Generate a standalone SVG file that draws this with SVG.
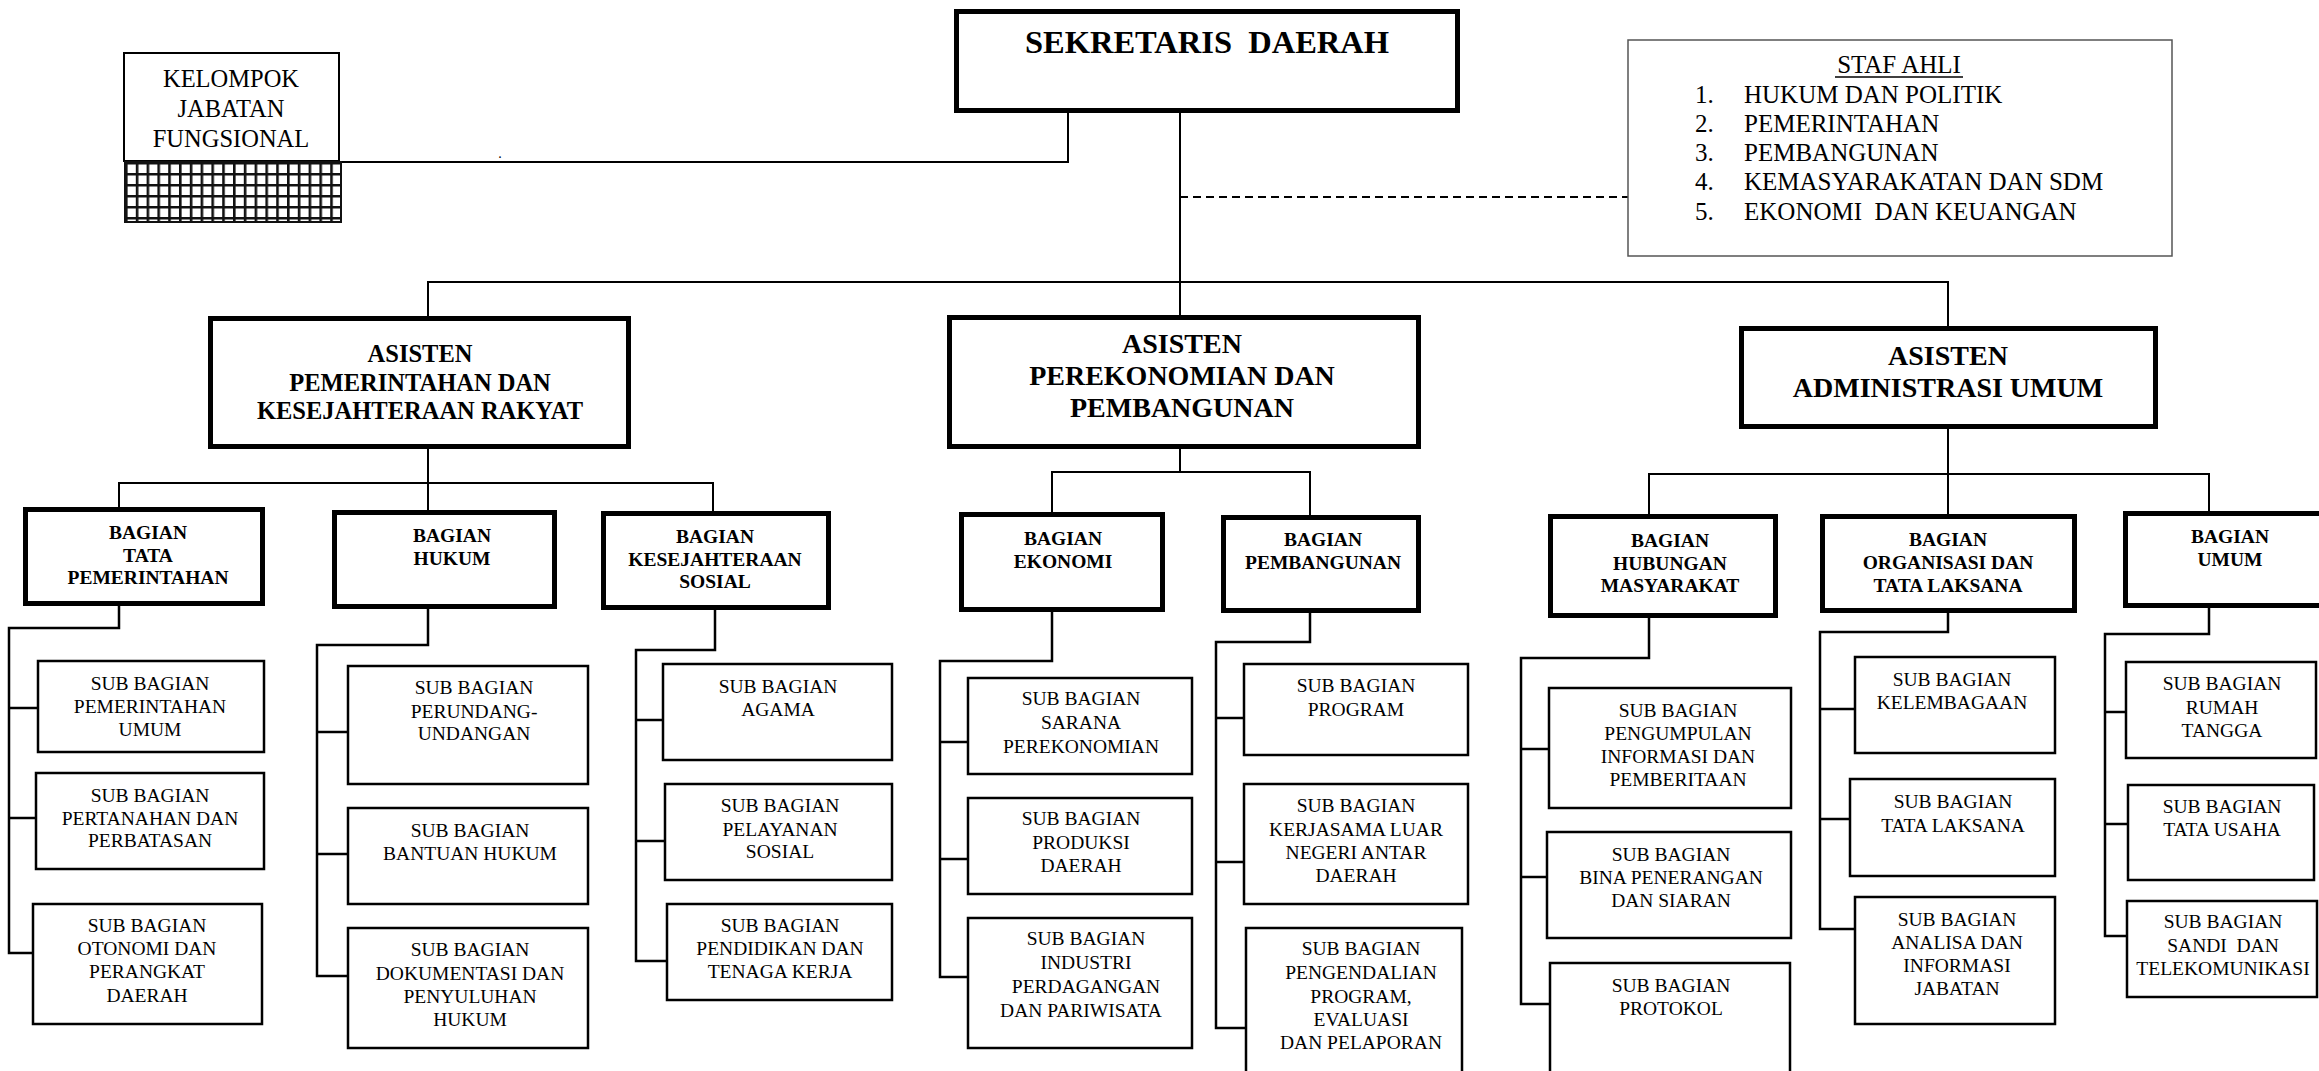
<svg xmlns="http://www.w3.org/2000/svg" width="2319" height="1071" viewBox="0 0 2319 1071">
<style>
.bx{fill:#fff;stroke:#000}
.b5{stroke-width:5}
.b2{stroke-width:2.5}
.c{fill:none;stroke:#000;stroke-width:2}
.cs{fill:none;stroke:#000;stroke-width:2.5}
text{font-family:"Liberation Serif","Times New Roman",serif;fill:#000;text-anchor:middle;white-space:pre}
.s{font-size:19.5px}
.bb{font-size:19.5px;font-weight:bold}
.a1{font-size:24.5px;font-weight:bold}
.a2{font-size:28px;font-weight:bold}
.st{font-size:25px;text-anchor:start}
</style>
<defs>
<pattern id="grid" x="125" y="162" width="10.8" height="11" patternUnits="userSpaceOnUse">
<rect width="10.8" height="11" fill="#fff"/>
<path d="M1.2 0V11M0 1.2H10.8" stroke="#111" stroke-width="2.8"/>
</pattern>
</defs>
<rect width="2319" height="1071" fill="#fff"/>

<g id="connectors">
<polyline class="c" points="341,162 1068,162 1068,112"/>
<line class="c" x1="1180" y1="112" x2="1180" y2="316"/>
<line class="c" x1="1180" y1="197" x2="1628" y2="197" stroke-dasharray="8 5"/>
<polyline class="c" points="428,316 428,282 1948,282 1948,326"/>
<polyline class="c" points="119,507 119,483 713,483 713,511"/>
<line class="c" x1="428" y1="449" x2="428" y2="510"/>
<polyline class="c" points="1052,512 1052,472 1310,472 1310,515"/>
<line class="c" x1="1180" y1="449" x2="1180" y2="472"/>
<polyline class="c" points="1649,514 1649,474 2209,474 2209,511"/>
<line class="c" x1="1948" y1="429" x2="1948" y2="514"/>
<polyline class="cs" points="119,606 119,628 9,628 9,953 33,953"/>
<line class="cs" x1="9" y1="708" x2="38" y2="708"/>
<line class="cs" x1="9" y1="818" x2="36" y2="818"/>
<polyline class="cs" points="428,609 428,645 317,645 317,976 348,976"/>
<line class="cs" x1="317" y1="732" x2="348" y2="732"/>
<line class="cs" x1="317" y1="854" x2="348" y2="854"/>
<polyline class="cs" points="715,610 715,650 636,650 636,961 667,961"/>
<line class="cs" x1="636" y1="720" x2="663" y2="720"/>
<line class="cs" x1="636" y1="841" x2="665" y2="841"/>
<polyline class="cs" points="1052,612 1052,661 940,661 940,977 968,977"/>
<line class="cs" x1="940" y1="742" x2="968" y2="742"/>
<line class="cs" x1="940" y1="859" x2="968" y2="859"/>
<polyline class="cs" points="1310,613 1310,642 1216,642 1216,1028 1246,1028"/>
<line class="cs" x1="1216" y1="718" x2="1244" y2="718"/>
<line class="cs" x1="1216" y1="862" x2="1244" y2="862"/>
<polyline class="cs" points="1649,618 1649,658 1521,658 1521,1004 1550,1004"/>
<line class="cs" x1="1521" y1="749" x2="1549" y2="749"/>
<line class="cs" x1="1521" y1="877" x2="1547" y2="877"/>
<polyline class="cs" points="1948,613 1948,632 1820,632 1820,929 1855,929"/>
<line class="cs" x1="1820" y1="709" x2="1855" y2="709"/>
<line class="cs" x1="1820" y1="819" x2="1850" y2="819"/>
<polyline class="cs" points="2209,608 2209,634 2105,634 2105,936 2127,936"/>
<line class="cs" x1="2105" y1="712" x2="2126" y2="712"/>
<line class="cs" x1="2105" y1="824" x2="2128" y2="824"/>
</g>
<text x="500" y="158" style="font-size:14px">.</text>

<g id="sekda">
<rect class="bx b5" x="956.5" y="11.5" width="501" height="99"/>
<text x="1207" y="53" style="font-size:32.5px;font-weight:bold">SEKRETARIS  DAERAH</text>
</g>

<g id="kelompok">
<rect class="bx" stroke-width="2" x="124" y="53" width="215" height="108"/>
<rect x="125" y="162" width="216" height="60" fill="url(#grid)" stroke="#111" stroke-width="2"/>
<text x="231" y="87" style="font-size:24.5px">KELOMPOK</text>
<text x="231" y="117" style="font-size:24.5px">JABATAN</text>
<text x="231" y="147" style="font-size:24.5px">FUNGSIONAL</text>
</g>

<g id="stafahli">
<rect x="1628" y="40" width="544" height="216" fill="#fff" stroke="#555" stroke-width="1.5"/>
<text x="1899" y="73" style="font-size:25px">STAF AHLI</text>
<line x1="1835" y1="77" x2="1963" y2="77" stroke="#000" stroke-width="1.5"/>
<text class="st" x="1695" y="103">1.</text><text class="st" x="1744" y="103">HUKUM DAN POLITIK</text>
<text class="st" x="1695" y="132">2.</text><text class="st" x="1744" y="132">PEMERINTAHAN</text>
<text class="st" x="1695" y="161">3.</text><text class="st" x="1744" y="161">PEMBANGUNAN</text>
<text class="st" x="1695" y="190">4.</text><text class="st" x="1744" y="190">KEMASYARAKATAN DAN SDM</text>
<text class="st" x="1695" y="220">5.</text><text class="st" x="1744" y="220">EKONOMI  DAN KEUANGAN</text>
</g>

<g id="asisten1">
<rect class="bx b5" x="210.5" y="318.5" width="418" height="128"/>
<text class="a1" x="420" y="362">ASISTEN</text>
<text class="a1" x="420" y="391">PEMERINTAHAN DAN</text>
<text class="a1" x="420" y="419">KESEJAHTERAAN RAKYAT</text>
</g>
<g id="asisten2">
<rect class="bx b5" x="949.5" y="317.5" width="469" height="129"/>
<text class="a2" x="1182" y="353">ASISTEN</text>
<text class="a2" x="1182" y="385">PEREKONOMIAN DAN</text>
<text class="a2" x="1182" y="417">PEMBANGUNAN</text>
</g>
<g id="asisten3">
<rect class="bx b5" x="1741.5" y="328.5" width="414" height="98"/>
<text class="a2" x="1948" y="365">ASISTEN</text>
<text class="a2" x="1948" y="397">ADMINISTRASI UMUM</text>
</g>

<g id="bag-tapem">
<rect class="bx b5" x="25.5" y="509.5" width="237" height="94"/>
<text class="bb" x="148" y="539">BAGIAN</text>
<text class="bb" x="148" y="562">TATA</text>
<text class="bb" x="148" y="584">PEMERINTAHAN</text>
</g>
<g id="bag-hukum">
<rect class="bx b5" x="334.5" y="512.5" width="220" height="94"/>
<text class="bb" x="452" y="542">BAGIAN</text>
<text class="bb" x="452" y="565">HUKUM</text>
</g>
<g id="bag-kesos">
<rect class="bx b5" x="603.5" y="513.5" width="225" height="94"/>
<text class="bb" x="715" y="543">BAGIAN</text>
<text class="bb" x="715" y="566">KESEJAHTERAAN</text>
<text class="bb" x="715" y="588">SOSIAL</text>
</g>
<g id="bag-ekonomi">
<rect class="bx b5" x="961.5" y="514.5" width="201" height="95"/>
<text class="bb" x="1063" y="545">BAGIAN</text>
<text class="bb" x="1063" y="568">EKONOMI</text>
</g>
<g id="bag-pembangunan">
<rect class="bx b5" x="1223.5" y="517.5" width="195" height="93"/>
<text class="bb" x="1323" y="546">BAGIAN</text>
<text class="bb" x="1323" y="569">PEMBANGUNAN</text>
</g>
<g id="bag-humas">
<rect class="bx b5" x="1550.5" y="516.5" width="225" height="99"/>
<text class="bb" x="1670" y="547">BAGIAN</text>
<text class="bb" x="1670" y="570">HUBUNGAN</text>
<text class="bb" x="1670" y="592">MASYARAKAT</text>
</g>
<g id="bag-ortala">
<rect class="bx b5" x="1822.5" y="516.5" width="252" height="94"/>
<text class="bb" x="1948" y="546">BAGIAN</text>
<text class="bb" x="1948" y="569">ORGANISASI DAN</text>
<text class="bb" x="1948" y="592">TATA LAKSANA</text>
</g>
<g id="bag-umum">
<rect class="bx b5" x="2125.5" y="513.5" width="220" height="92"/>
<text class="bb" x="2230" y="543">BAGIAN</text>
<text class="bb" x="2230" y="566">UMUM</text>
</g>

<g id="sub-pemum">
<rect class="bx b2" x="38" y="661" width="226" height="91"/>
<text class="s" x="150" y="690">SUB BAGIAN</text>
<text class="s" x="150" y="713">PEMERINTAHAN</text>
<text class="s" x="150" y="736">UMUM</text>
</g>
<g id="sub-pertanahan">
<rect class="bx b2" x="36" y="773" width="228" height="96"/>
<text class="s" x="150" y="802">SUB BAGIAN</text>
<text class="s" x="150" y="825">PERTANAHAN DAN</text>
<text class="s" x="150" y="847">PERBATASAN</text>
</g>
<g id="sub-otonomi">
<rect class="bx b2" x="33" y="904" width="229" height="120"/>
<text class="s" x="147" y="932">SUB BAGIAN</text>
<text class="s" x="147" y="955">OTONOMI DAN</text>
<text class="s" x="147" y="978">PERANGKAT</text>
<text class="s" x="147" y="1002">DAERAH</text>
</g>
<g id="sub-perundangan">
<rect class="bx b2" x="348" y="666" width="240" height="118"/>
<text class="s" x="474" y="694">SUB BAGIAN</text>
<text class="s" x="474" y="718">PERUNDANG-</text>
<text class="s" x="474" y="740">UNDANGAN</text>
</g>
<g id="sub-bantuan">
<rect class="bx b2" x="348" y="808" width="240" height="96"/>
<text class="s" x="470" y="837">SUB BAGIAN</text>
<text class="s" x="470" y="860">BANTUAN HUKUM</text>
</g>
<g id="sub-dokumentasi">
<rect class="bx b2" x="348" y="928" width="240" height="120"/>
<text class="s" x="470" y="956">SUB BAGIAN</text>
<text class="s" x="470" y="980">DOKUMENTASI DAN</text>
<text class="s" x="470" y="1003">PENYULUHAN</text>
<text class="s" x="470" y="1026">HUKUM</text>
</g>
<g id="sub-agama">
<rect class="bx b2" x="663" y="664" width="229" height="96"/>
<text class="s" x="778" y="693">SUB BAGIAN</text>
<text class="s" x="778" y="716">AGAMA</text>
</g>
<g id="sub-pelayanan">
<rect class="bx b2" x="665" y="784" width="227" height="96"/>
<text class="s" x="780" y="812">SUB BAGIAN</text>
<text class="s" x="780" y="836">PELAYANAN</text>
<text class="s" x="780" y="858">SOSIAL</text>
</g>
<g id="sub-pendidikan">
<rect class="bx b2" x="667" y="904" width="225" height="96"/>
<text class="s" x="780" y="932">SUB BAGIAN</text>
<text class="s" x="780" y="955">PENDIDIKAN DAN</text>
<text class="s" x="780" y="978">TENAGA KERJA</text>
</g>
<g id="sub-sarana">
<rect class="bx b2" x="968" y="678" width="224" height="96"/>
<text class="s" x="1081" y="705">SUB BAGIAN</text>
<text class="s" x="1081" y="729">SARANA</text>
<text class="s" x="1081" y="753">PEREKONOMIAN</text>
</g>
<g id="sub-produksi">
<rect class="bx b2" x="968" y="798" width="224" height="96"/>
<text class="s" x="1081" y="825">SUB BAGIAN</text>
<text class="s" x="1081" y="849">PRODUKSI</text>
<text class="s" x="1081" y="872">DAERAH</text>
</g>
<g id="sub-industri">
<rect class="bx b2" x="968" y="918" width="224" height="130"/>
<text class="s" x="1086" y="945">SUB BAGIAN</text>
<text class="s" x="1086" y="969">INDUSTRI</text>
<text class="s" x="1086" y="993">PERDAGANGAN</text>
<text class="s" x="1081" y="1017">DAN PARIWISATA</text>
</g>
<g id="sub-program">
<rect class="bx b2" x="1244" y="664" width="224" height="91"/>
<text class="s" x="1356" y="692">SUB BAGIAN</text>
<text class="s" x="1356" y="716">PROGRAM</text>
</g>
<g id="sub-kerjasama">
<rect class="bx b2" x="1244" y="784" width="224" height="120"/>
<text class="s" x="1356" y="812">SUB BAGIAN</text>
<text class="s" x="1356" y="836">KERJASAMA LUAR</text>
<text class="s" x="1356" y="859">NEGERI ANTAR</text>
<text class="s" x="1356" y="882">DAERAH</text>
</g>
<g id="sub-pengendalian">
<rect class="bx b2" x="1246" y="928" width="216" height="160"/>
<text class="s" x="1361" y="955">SUB BAGIAN</text>
<text class="s" x="1361" y="979">PENGENDALIAN</text>
<text class="s" x="1361" y="1003">PROGRAM,</text>
<text class="s" x="1361" y="1026">EVALUASI</text>
<text class="s" x="1361" y="1049">DAN PELAPORAN</text>
</g>
<g id="sub-pengumpulan">
<rect class="bx b2" x="1549" y="688" width="242" height="120"/>
<text class="s" x="1678" y="717">SUB BAGIAN</text>
<text class="s" x="1678" y="740">PENGUMPULAN</text>
<text class="s" x="1678" y="763">INFORMASI DAN</text>
<text class="s" x="1678" y="786">PEMBERITAAN</text>
</g>
<g id="sub-bina">
<rect class="bx b2" x="1547" y="832" width="244" height="106"/>
<text class="s" x="1671" y="861">SUB BAGIAN</text>
<text class="s" x="1671" y="884">BINA PENERANGAN</text>
<text class="s" x="1671" y="907">DAN SIARAN</text>
</g>
<g id="sub-protokol">
<rect class="bx b2" x="1550" y="963" width="240" height="125"/>
<text class="s" x="1671" y="992">SUB BAGIAN</text>
<text class="s" x="1671" y="1015">PROTOKOL</text>
</g>
<g id="sub-kelembagaan">
<rect class="bx b2" x="1855" y="657" width="200" height="96"/>
<text class="s" x="1952" y="686">SUB BAGIAN</text>
<text class="s" x="1952" y="709">KELEMBAGAAN</text>
</g>
<g id="sub-tatalaksana">
<rect class="bx b2" x="1850" y="779" width="205" height="97"/>
<text class="s" x="1953" y="808">SUB BAGIAN</text>
<text class="s" x="1953" y="832">TATA LAKSANA</text>
</g>
<g id="sub-analisa">
<rect class="bx b2" x="1855" y="897" width="200" height="127"/>
<text class="s" x="1957" y="926">SUB BAGIAN</text>
<text class="s" x="1957" y="949">ANALISA DAN</text>
<text class="s" x="1957" y="972">INFORMASI</text>
<text class="s" x="1957" y="995">JABATAN</text>
</g>
<g id="sub-rumahtangga">
<rect class="bx b2" x="2126" y="662" width="190" height="96"/>
<text class="s" x="2222" y="690">SUB BAGIAN</text>
<text class="s" x="2222" y="714">RUMAH</text>
<text class="s" x="2222" y="737">TANGGA</text>
</g>
<g id="sub-tatausaha">
<rect class="bx b2" x="2128" y="785" width="186" height="95"/>
<text class="s" x="2222" y="813">SUB BAGIAN</text>
<text class="s" x="2222" y="836">TATA USAHA</text>
</g>
<g id="sub-sandi">
<rect class="bx b2" x="2127" y="901" width="190" height="96"/>
<text class="s" x="2223" y="928">SUB BAGIAN</text>
<text class="s" x="2223" y="952">SANDI  DAN</text>
<text class="s" x="2223" y="975">TELEKOMUNIKASI</text>
</g>
</svg>
